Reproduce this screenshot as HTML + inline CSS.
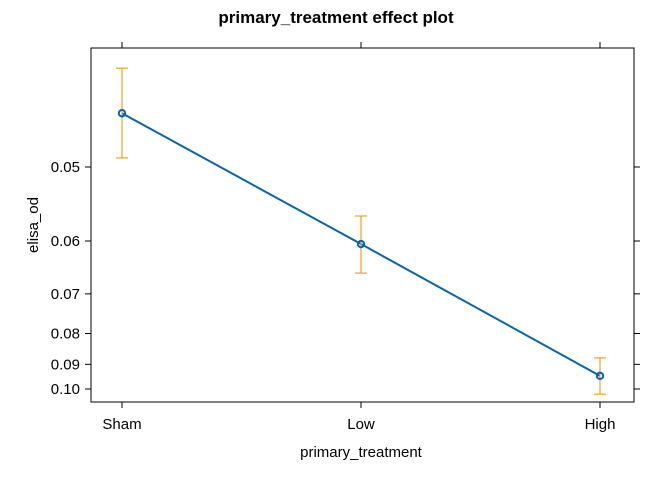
<!DOCTYPE html>
<html><head><meta charset="utf-8"><style>
body{margin:0;background:#fff;font-family:"Liberation Sans",sans-serif;}
</style></head><body>
<svg id="chart" width="672" height="480" xmlns="http://www.w3.org/2000/svg" font-family="Liberation Sans, sans-serif">
<text x="336" y="23" text-anchor="middle" font-size="17" font-weight="bold">primary_treatment effect plot</text>
<rect x="91" y="48" width="543" height="354" fill="none" stroke="#000" stroke-width="1"/>
<text x="361" y="457" text-anchor="middle" font-size="15">primary_treatment</text>
<text transform="translate(38,225) rotate(-90)" text-anchor="middle" font-size="15">elisa_od</text>
<g id="axes"></g><g id="marks"></g>
</svg>
<script>
const categories=["Sham","Low","High"];
const fitValues=[0.0446,0.0605,0.0944];
const lowerValues=[0.0409,0.0562,0.0877];
const upperValues=[0.0490,0.0657,0.1024];
const yTicks=[0.05,0.06,0.07,0.08,0.09,0.10];
const yTickLabels=["0.05","0.06","0.07","0.08","0.09","0.10"];
const NS="http://www.w3.org/2000/svg";
function xS(i){return 122+i*239;}
function yS(v){return 167+(20-1/v)*22.2;}
function mk(tag,attrs,parent){const e=document.createElementNS(NS,tag);for(const k in attrs)e.setAttribute(k,attrs[k]);parent.appendChild(e);return e;}
const axes=document.getElementById('axes'),marks=document.getElementById('marks');
yTicks.forEach((v,i)=>{const y=yS(v);
 let l=mk('line',{x1:85,x2:91,y1:y,y2:y,stroke:'#000'},axes);
 
 
 let r=mk('line',{x1:634,x2:640,y1:y,y2:y,stroke:'#000'},axes);
 
 
 let t=mk('text',{x:80,y:y+5,'text-anchor':'end','font-size':15},axes);t.textContent=yTickLabels[i];
 
 
});
categories.forEach((c,i)=>{const x=xS(i);
 let l=mk('line',{x1:x,x2:x,y1:402,y2:408,stroke:'#000'},axes);
 
 
 let tp=mk('line',{x1:x,x2:x,y1:42,y2:48,stroke:'#000'},axes);
 
 
 let t=mk('text',{x:x,y:429,'text-anchor':'middle','font-size':15},axes);t.textContent=c;
 
 
});
let pts=fitValues.map((v,i)=>xS(i)+','+yS(v)).join(' ');
let line=mk('polyline',{points:pts,fill:'none',stroke:'#0a64a8','stroke-width':2},marks);


categories.forEach((c,i)=>{const x=xS(i),y1=yS(lowerValues[i]),y2=yS(upperValues[i]);
 const g=mk('g',{stroke:'#f0a020','stroke-width':1.2},marks);
 
 
 mk('line',{x1:x,x2:x,y1:y1,y2:y2},g);
 mk('line',{x1:x-6,x2:x+6,y1:y1,y2:y1},g);
 mk('line',{x1:x-6,x2:x+6,y1:y2,y2:y2},g);
 let p=mk('circle',{cx:x,cy:yS(fitValues[i]),r:3.2,fill:'none',stroke:'#0a64a8','stroke-width':2},marks);
 
 
});
</script>
</body></html>
